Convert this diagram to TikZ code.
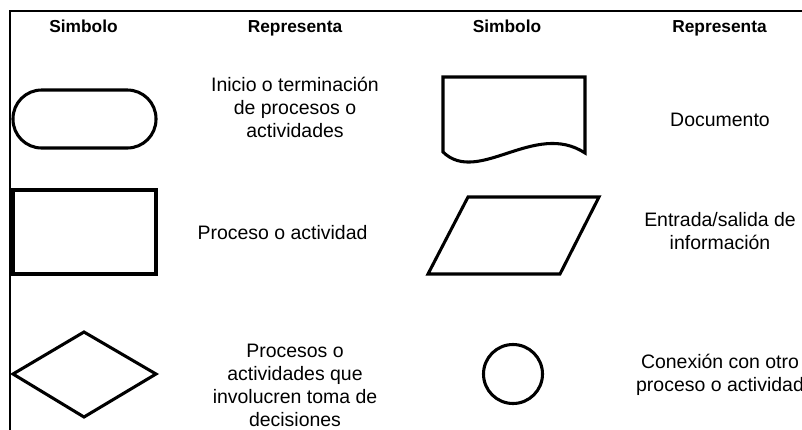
\documentclass[tikz,border=0pt]{standalone}
\usepackage{fontspec}
\setmainfont{Liberation Sans}

\begin{document}
\begin{tikzpicture}[x=0.75pt, y=-0.75pt,
  sym/.style={line width=2.3pt, line join=miter},
  desc/.style={font=\fontsize{14.6}{17.2}\selectfont, align=center, inner sep=0pt},
  head/.style={font=\fontsize{13}{15}\selectfont\bfseries, inner sep=0pt, anchor=base}]
  \useasboundingbox (0,0) rectangle (802,429);
  \clip (0,0) rectangle (802,429);

  % Table frame
  \draw[line width=1.4pt] (10,440) -- (10,11) -- (815,11);

  % Headers
  \node[head] (hsymA) at (83.5,32.5) {Simbolo};
  \node[head] (hrepA) at (295,32.5) {Representa};
  \node[head] (hsymB) at (507,32.5) {Simbolo};
  \node[head] (hrepB) at (719.5,32.5) {Representa};

  % Left column: terminal, process, decision
  \draw[sym, rounded corners=21.5pt] (13,90) rectangle (156,148);
  \node[desc] (tinicio) at (295,107) {Inicio o terminación\\de procesos o\\actividades};

  \draw[sym] (13,190) rectangle (156,274);
  \node[desc] (tproceso) at (282.5,233) {Proceso o actividad};

  \draw[sym] (13,374) -- (84,332) -- (156,374) -- (84,417) -- cycle;
  \node[desc] (tdecision) at (295,385) {Procesos o\\actividades que\\involucren toma de\\decisiones};

  % Right column: document, input/output, connector
  \draw[sym] (443,152) -- (443,77) -- (585,77) -- (585,153)
    .. controls (535,120) and (478,186) .. (443,152) -- cycle;
  \node[desc] (tdoc) at (720,120) {Documento};

  \draw[sym] (468,197) -- (599,197) -- (560,274) -- (428,274) -- cycle;
  \node[desc] (tes) at (720,231.5) {Entrada/salida de\\información};

  \draw[sym] (513,374) circle[radius=29.5];
  \node[desc] (tconexion) at (720,375) {Conexión con otro\\proceso o actividad};
\end{tikzpicture}
\end{document}
